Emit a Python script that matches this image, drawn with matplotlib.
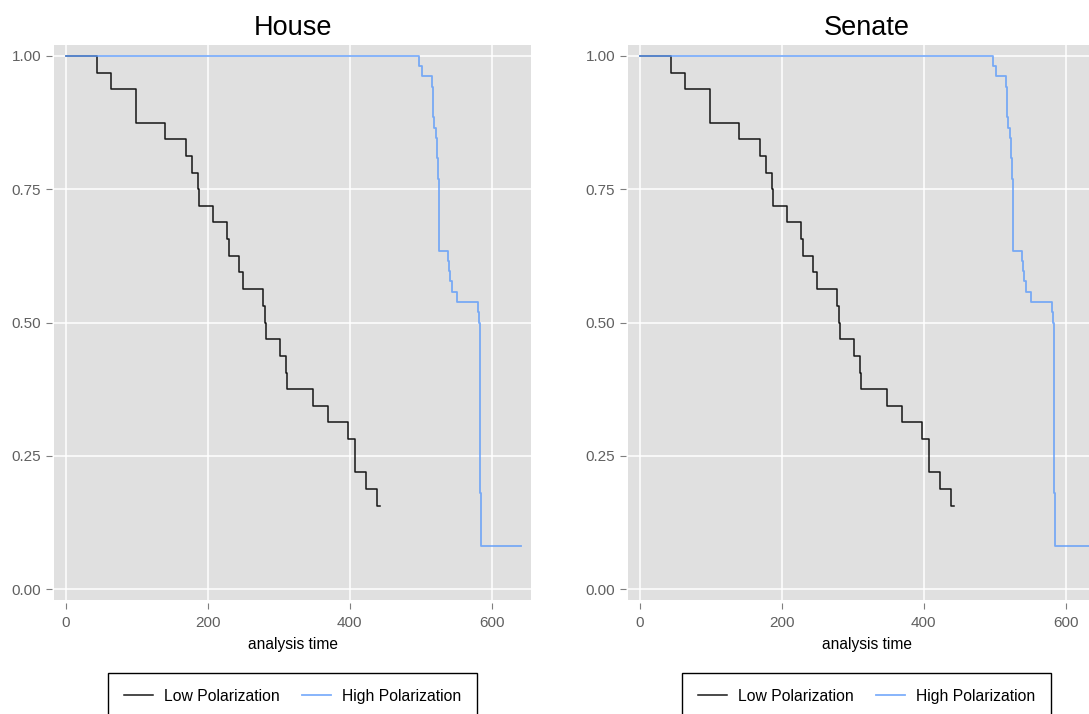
import matplotlib
matplotlib.use("Agg")
import matplotlib.pyplot as plt

plt.rcParams['font.family'] = ['Liberation Sans', 'DejaVu Sans']

# Panels and series
panels = ["House", "Senate"]
series_labels = ["Low Polarization", "High Polarization"]
x_label = "analysis time"

# Kaplan-Meier survival estimates (step function, value holds until next time)
low_time = [0, 44, 64, 99, 140, 170, 178, 186, 188, 207.5, 227, 230, 244.5, 250,
            278, 280.5, 282.5, 302, 310, 312, 348, 370, 398, 408, 423, 439, 443]
low_surv = [1.0, 0.969, 0.938, 0.875, 0.844, 0.813, 0.781, 0.750, 0.719, 0.688,
            0.656, 0.625, 0.594, 0.563, 0.531, 0.500, 0.469, 0.438, 0.406, 0.375,
            0.344, 0.313, 0.281, 0.219, 0.188, 0.156, 0.156]

high_time = [0, 498, 502, 516, 517.6, 519, 522.3, 523.2, 524.6, 525.6, 526,
             539.2, 540.6, 541.5, 544.4, 551, 581.4, 582.8, 583.8, 585.2, 641]
high_surv = [1.0, 0.981, 0.962, 0.942, 0.885, 0.865, 0.846, 0.808, 0.769, 0.673,
             0.635, 0.615, 0.596, 0.577, 0.558, 0.538, 0.519, 0.500, 0.181, 0.081,
             0.081]

x_ticks = [0, 200, 400, 600]
y_ticks = [0.0, 0.25, 0.50, 0.75, 1.0]
y_tick_labels = ["0.00", "0.25", "0.50", "0.75", "1.00"]

W, H = 1089, 714
fig = plt.figure(figsize=(W / 100, H / 100), dpi=100, facecolor="white")


def px_rect(left, top, width, height):
    return [left / W, 1 - (top + height) / H, width / W, height / H]


panel_lefts = [54.3, 628.3]
panel_top, panel_w, panel_h = 45, 476.5, 555

low_color = "black"
high_color = "#5e9bfa"

for name, left in zip(panels, panel_lefts):
    ax = fig.add_axes(px_rect(left, panel_top, panel_w, panel_h))
    ax.set_facecolor("#e0e0e0")
    ax.set_xlim(-15.8, 655.2)
    ax.set_ylim(-0.0206, 1.0206)

    ax.step(low_time, low_surv, where="post", color=low_color, lw=1.1,
            alpha=0.9, label=series_labels[0])
    ax.step(high_time, high_surv, where="post", color=high_color, lw=1.3,
            alpha=0.8, label=series_labels[1])

    ax.set_xticks(x_ticks)
    ax.set_yticks(y_ticks)
    ax.set_yticklabels(y_tick_labels)
    ax.grid(True, color="white", lw=1.1)
    ax.set_axisbelow(True)

    for side in ["top", "right", "left", "bottom"]:
        ax.spines[side].set_visible(False)
    ax.spines["left"].set_position(("outward", 1.8))
    ax.spines["bottom"].set_position(("outward", 1.8))

    ax.tick_params(axis="x", direction="out", length=4.5, width=0.8,
                   color="#7f7f7f", labelcolor="#606060", labelsize=11, pad=5)
    ax.tick_params(axis="y", direction="out", length=4.0, width=0.8,
                   color="#7f7f7f", labelcolor="#606060", labelsize=11, pad=3.6)

    ax.text(0.5, 1 + (panel_top - 35) / panel_h, name, transform=ax.transAxes,
            ha="center", va="baseline", fontsize=19.5, color="black")

    ax.set_xlabel(x_label, fontsize=11.2, color="black")
    ax.xaxis.label.set_va("baseline")
    ax.xaxis.set_label_coords(0.5, -(649.5 - (panel_top + panel_h)) / panel_h)

    leg = ax.legend(loc="upper center",
                    bbox_to_anchor=(0.5, -(673 - (panel_top + panel_h)) / panel_h),
                    bbox_transform=ax.transAxes, ncol=2, frameon=True,
                    fancybox=False, edgecolor="black", fontsize=11.3,
                    handlelength=1.85, handletextpad=0.7, columnspacing=1.43,
                    borderpad=1.0, borderaxespad=0)
    leg.get_frame().set_linewidth(1.0)
    leg.get_frame().set_alpha(1.0)

fig.savefig("out.png", dpi=100, facecolor="white")
